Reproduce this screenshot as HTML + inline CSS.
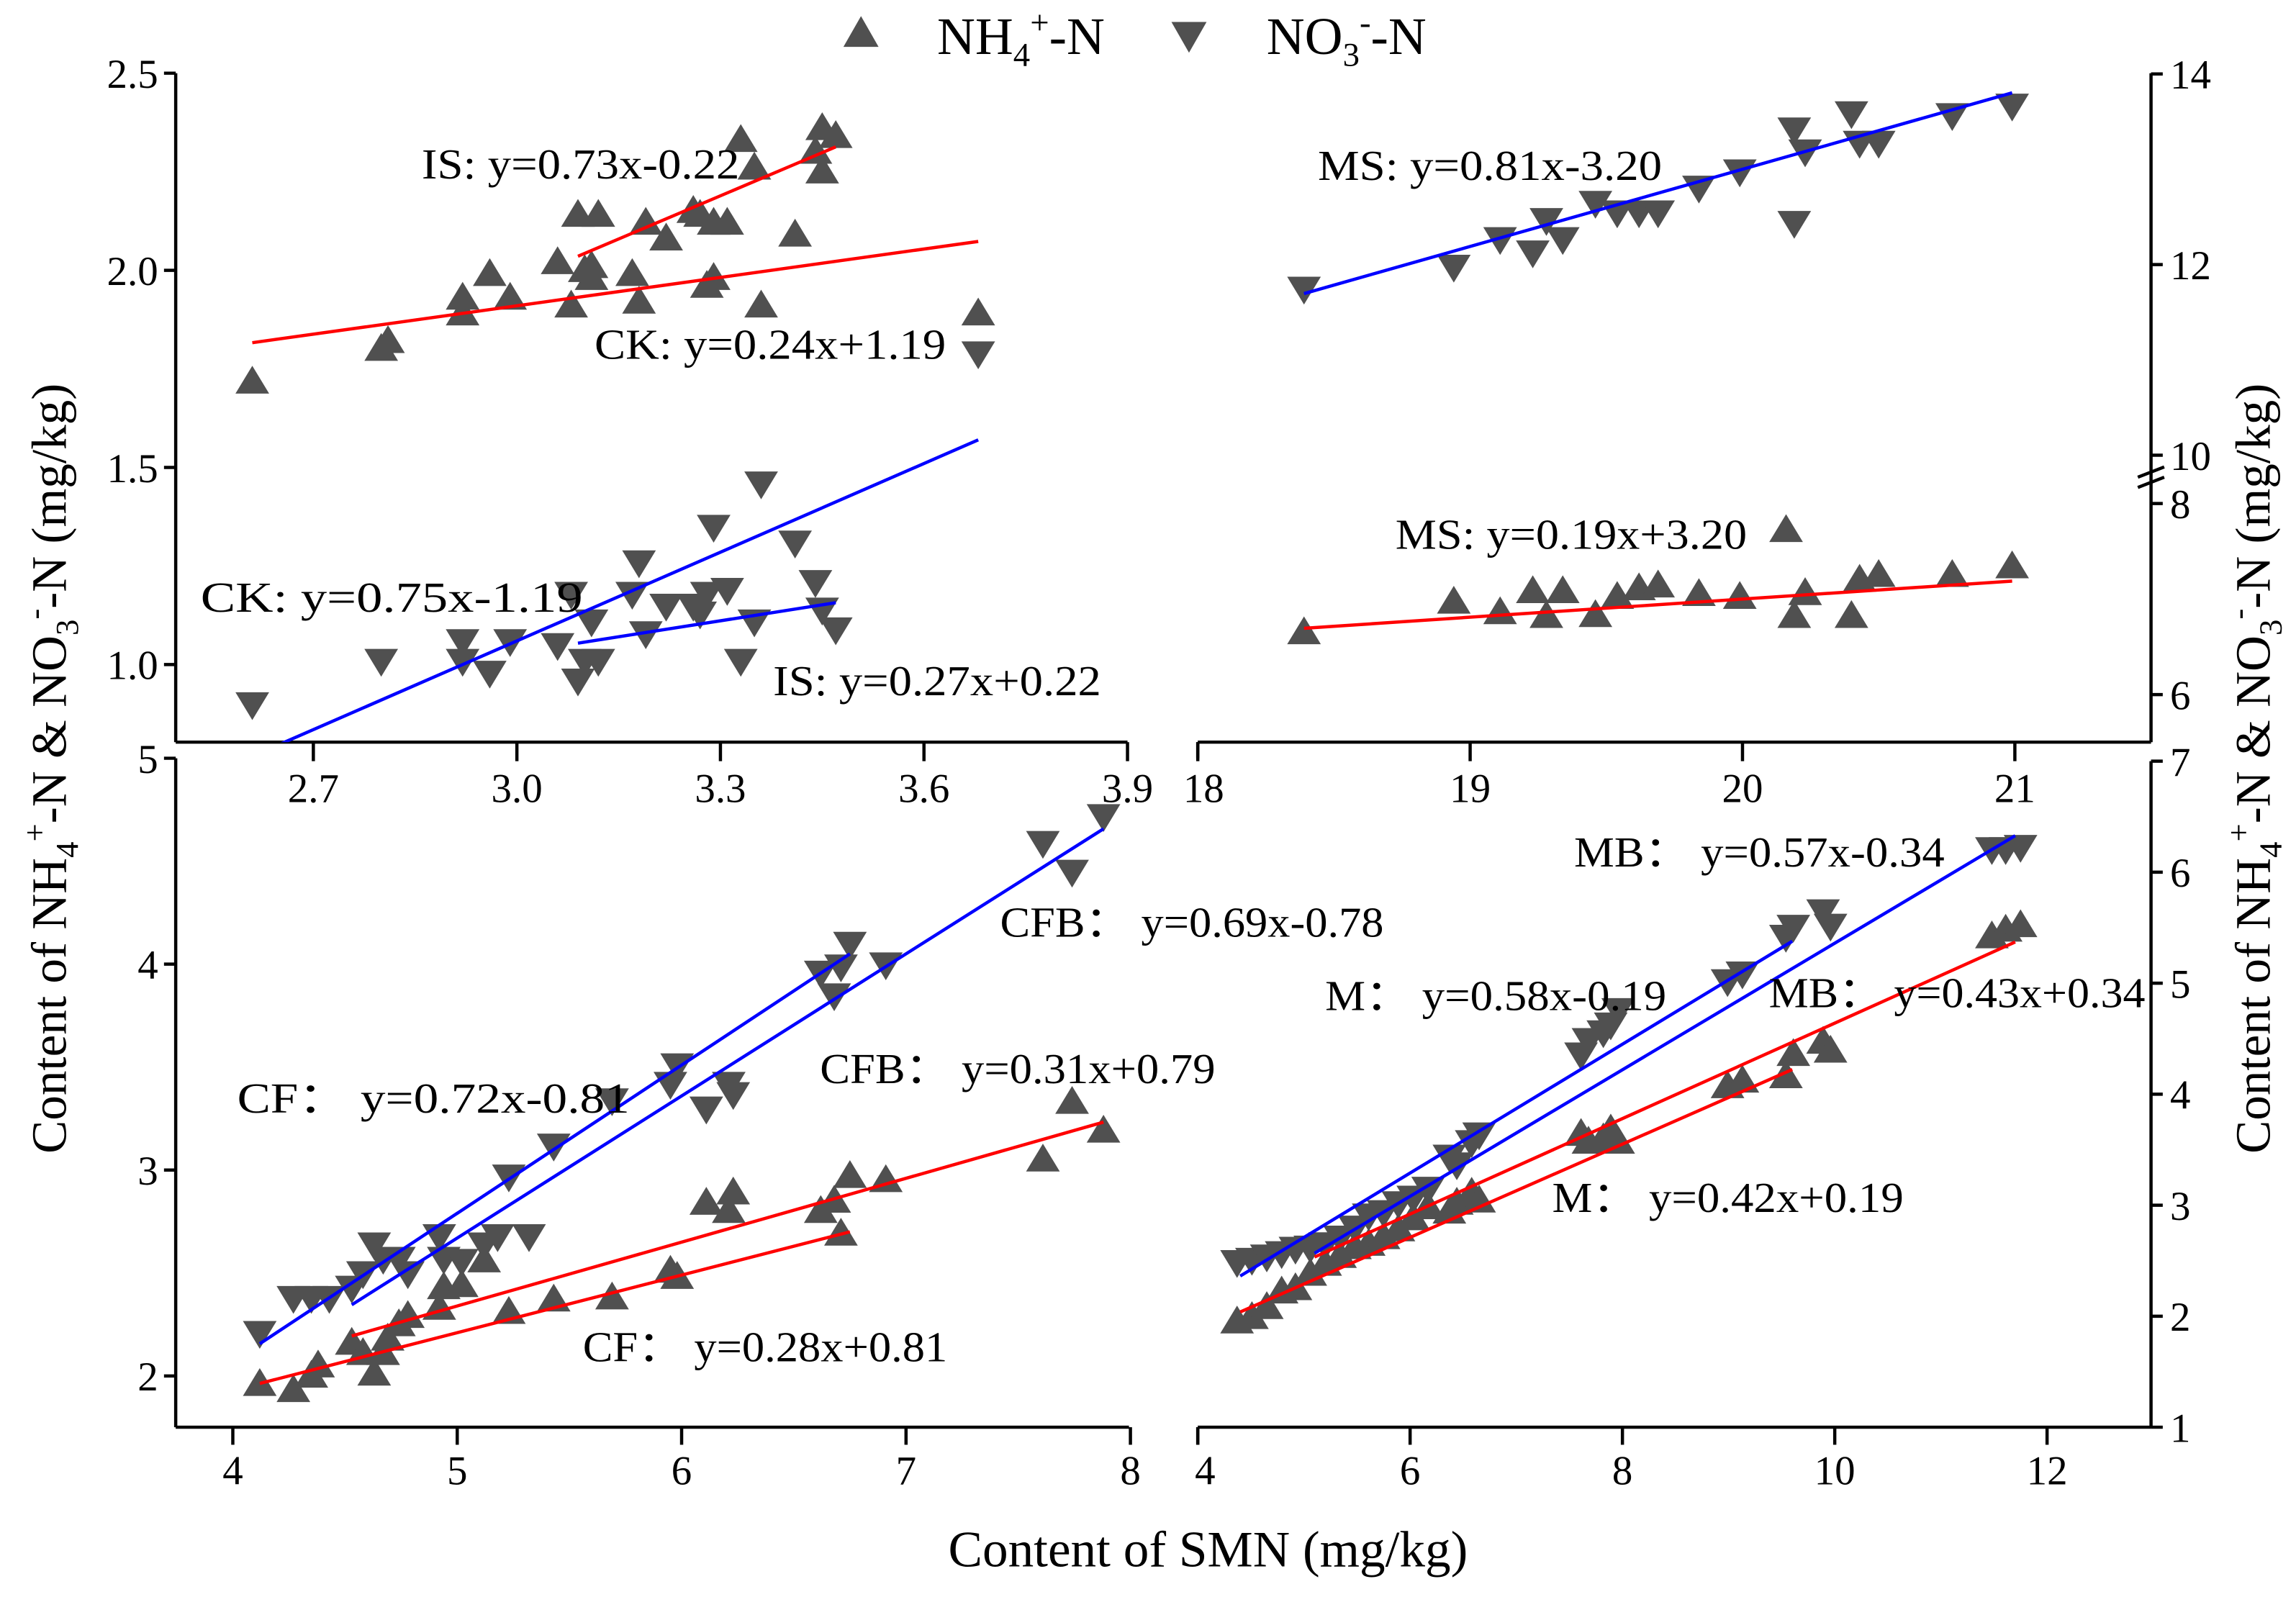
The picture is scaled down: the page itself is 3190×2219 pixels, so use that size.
<!DOCTYPE html>
<html><head><meta charset="utf-8"><style>
html,body{margin:0;padding:0;background:#fff;}
svg{display:block;}
text{font-family:"Liberation Serif",serif;fill:#000;}
</style></head><body>
<svg id="chart" xmlns="http://www.w3.org/2000/svg" width="3190" height="2219" viewBox="0 0 1568 1091" preserveAspectRatio="none">
<defs><clipPath id="clipTL"><rect x="120" y="40" width="660" height="467"/></clipPath></defs>
<g id="axes"></g>
<g id="marks"></g>
<g id="labels"></g>
<g>
<path d="M588,11 L576,32 L600,32 Z" fill="#505050"/>
<text x="640" y="37" font-size="36">NH<tspan font-size="23" dy="8">4</tspan><tspan font-size="23" dy="-22">+</tspan><tspan dy="14">-N</tspan></text>
<path d="M800,15 L824,15 L812,36 Z" fill="#505050"/>
<text x="865" y="37" font-size="36">NO<tspan font-size="23" dy="8">3</tspan><tspan font-size="23" dy="-22">-</tspan><tspan dy="14">-N</tspan></text>
</g>
<text transform="translate(45,525) rotate(-90)" text-anchor="middle" font-size="34">Content of NH<tspan font-size="22" dy="8">4</tspan><tspan font-size="22" dy="-22">+</tspan><tspan dy="14">-N &amp; NO</tspan><tspan font-size="22" dy="8">3</tspan><tspan font-size="22" dy="-22">-</tspan><tspan dy="14">-N (mg/kg)</tspan></text>
<text transform="translate(1550,525) rotate(-90)" text-anchor="middle" font-size="34">Content of NH<tspan font-size="22" dy="8">4</tspan><tspan font-size="22" dy="-22">+</tspan><tspan dy="14">-N &amp; NO</tspan><tspan font-size="22" dy="8">3</tspan><tspan font-size="22" dy="-22">-</tspan><tspan dy="14">-N (mg/kg)</tspan></text>
<text x="825" y="1070" text-anchor="middle" font-size="35">Content of SMN (mg/kg)</text>
</svg>
<script>
// ---- Top-left (CK / IS) ----
const TL_X_NH4=[2.61,2.80,2.81,2.92,2.92,2.96,2.99,3.06,3.08,3.09,3.10,3.11,3.12,3.11,3.17,3.18,3.19,3.22,3.26,3.27,3.28,3.29,3.29,3.31,3.33,3.35,3.36,3.41,3.44,3.45,3.45,3.47,3.68];
const TL_NH4=[1.717,1.80,1.82,1.89,1.93,1.99,1.93,2.02,1.91,2.14,2.00,1.98,2.14,2.01,1.99,1.92,2.12,2.08,2.15,2.14,1.96,1.98,2.12,2.12,2.33,2.26,1.91,2.09,2.30,2.36,2.25,2.34,1.89];
const TL_X_NO3=[2.61,2.80,2.92,2.92,2.96,2.99,3.06,3.08,3.09,3.10,3.11,3.12,3.17,3.18,3.19,3.22,3.26,3.27,3.28,3.29,3.31,3.33,3.35,3.36,3.41,3.44,3.45,3.47,3.68];
const TL_NO3=[0.90,1.01,1.06,1.01,0.98,1.06,1.05,1.18,0.96,1.01,1.11,1.01,1.18,1.26,1.08,1.15,1.15,1.13,1.18,1.35,1.19,1.01,1.11,1.46,1.31,1.21,1.14,1.09,1.79];
// ---- Top-right (MS) ----
const TR_X=[18.39,18.94,19.11,19.23,19.28,19.34,19.46,19.54,19.62,19.69,19.84,19.99,20.19,20.19,20.23,20.40,20.43,20.50,20.77,20.99];
const TR_NO3=[11.75,11.98,12.27,12.13,12.47,12.27,12.65,12.55,12.55,12.55,12.81,12.98,13.42,12.44,13.19,13.59,13.28,13.28,13.57,13.67];
const TR_X_NH4=[18.39,18.94,19.11,19.23,19.28,19.34,19.46,19.54,19.62,19.69,19.84,19.99,20.16,20.19,20.23,20.40,20.43,20.50,20.77,20.99];
const TR_NH4=[6.65,6.97,6.86,7.08,6.82,7.08,6.83,7.02,7.11,7.14,7.05,7.02,7.72,6.82,7.06,6.82,7.20,7.25,7.25,7.34];
// ---- Bottom-left (CF / CFB) ----
const BL_X_NH4=[4.12,4.27,4.35,4.38,4.53,4.58,4.63,4.67,4.69,4.74,4.78,4.92,4.94,5.02,5.12,5.23,5.43,5.69,5.95,5.98,6.11,6.21,6.23,6.62,6.68,6.71,6.75,6.91,7.61,7.74,7.88];
const BL_NH4=[1.96,1.93,2.00,2.05,2.16,2.11,2.01,2.11,2.18,2.25,2.29,2.33,2.43,2.44,2.56,2.31,2.37,2.38,2.51,2.48,2.84,2.80,2.89,2.80,2.85,2.69,2.97,2.95,3.05,3.33,3.19];
const BL_X_NO3=[4.12,4.27,4.35,4.43,4.53,4.58,4.63,4.67,4.74,4.78,4.92,4.94,5.02,5.12,5.18,5.23,5.32,5.43,5.69,5.95,5.98,6.11,6.21,6.23,6.62,6.68,6.71,6.75,6.91,7.61,7.74,7.88];
const BL_NO3=[2.21,2.38,2.38,2.38,2.43,2.50,2.64,2.57,2.57,2.50,2.68,2.57,2.56,2.64,2.68,2.97,2.68,3.12,3.34,3.42,3.51,3.30,3.42,3.37,3.96,3.85,3.99,4.10,4.00,4.59,4.45,4.72];
// ---- Bottom-right (M / MB) ----
const BR_X=[4.37,4.51,4.65,4.79,4.92,5.06,5.20,5.34,5.48,5.61,5.75,5.89,6.03,6.17,6.37,6.44,6.58,6.65,7.61,7.68,7.82,7.89,7.96,8.99,9.13,9.54,9.61,9.89,9.96,11.48,11.61,11.75];
const BR_NO3=[2.49,2.51,2.54,2.57,2.61,2.62,2.65,2.71,2.80,2.91,2.94,3.02,3.07,3.15,3.44,3.37,3.57,3.64,4.36,4.49,4.56,4.63,4.76,5.02,5.09,5.42,5.51,5.65,5.52,6.21,6.21,6.23];
const BR_NH4=[1.95,1.99,2.08,2.22,2.25,2.38,2.47,2.54,2.62,2.65,2.71,2.78,2.88,2.98,2.94,3.02,3.11,3.04,3.64,3.57,3.60,3.68,3.57,4.07,4.12,4.16,4.36,4.47,4.39,5.42,5.48,5.52];
// ---- Regression lines: [slope, intercept, xStart, xEnd] ----
const TL_CK_NH4=[0.24,1.19,2.61,3.68];
const TL_IS_NH4=[0.73,-0.22,3.09,3.47];
const TL_CK_NO3=[0.75,-1.19,2.61,3.68];
const TL_IS_NO3=[0.27,0.22,3.09,3.47];
const TR_MS_NO3=[0.81,-3.20,18.39,20.99];
const TR_MS_NH4=[0.19,3.20,18.39,20.99];
const BL_CF_NO3=[0.72,-0.81,4.12,6.75];
const BL_CFB_NO3=[0.69,-0.78,4.53,7.88];
const BL_CF_NH4=[0.28,0.81,4.12,6.75];
const BL_CFB_NH4=[0.31,0.79,4.53,7.88];
const BR_M_NO3=[0.58,-0.19,4.4,9.6];
const BR_MB_NO3=[0.57,-0.34,5.1,11.7];
const BR_M_NH4=[0.42,0.19,4.4,9.6];
const BR_MB_NH4=[0.43,0.34,5.1,11.7];
// ---- Tick labels ----
const TL_XTICKS=["2.7","3.0","3.3","3.6","3.9"];
const TL_YTICKS=["1.0","1.5","2.0","2.5"];
const TR_XTICKS=["18","19","20","21"];
const TR_YTICKS_UP=["10","12","14"];
const TR_YTICKS_LO=["6","8"];
const BL_XTICKS=["4","5","6","7","8"];
const BL_YTICKS=["2","3","4","5"];
const BR_XTICKS=["4","6","8","10","12"];
const BR_YTICKS=["1","2","3","4","5","6","7"];

const NS="http://www.w3.org/2000/svg";
const axesG=document.getElementById('axes');
const marksG=document.getElementById('marks');
function lin(d0,d1,r0,r1){return v=>r0+(v-d0)*(r1-r0)/(d1-d0);}
function mk(tag,attrs,parent){const e=document.createElementNS(NS,tag);for(const k in attrs)e.setAttribute(k,attrs[k]);parent.appendChild(e);return e;}

const P={
 tl:{sx:lin(2.7,3.9,214,770),sy:lin(1.0,2.5,454,50)},
 trU:{sx:lin(18,21,818,1376),sy:lin(10,14,311,50.5)},
 trL:{sx:lin(18,21,818,1376),sy:lin(6,8,474.5,344)},
 bl:{sx:lin(4,8,159,772),sy:lin(2,5,940,518)},
 br:{sx:lin(4,12,818,1398),sy:lin(1,7,975,520)}
};

function line(x1,y1,x2,y2,name){
 const l=mk('line',{x1:x1,y1:y1,x2:x2,y2:y2,stroke:'#000','stroke-width':2.2},axesG);
 
 
}
function label(x,y,t,anchor,name){
 const e=mk('text',{x:x,y:y,'font-size':28,'text-anchor':anchor},axesG);
 e.textContent=t;
 
 
}
line(120,50,120,507,'y-axis-top-left');
line(120,507,770,507,'x-axis-top-left');
line(818,507,1469,507,'x-axis-top-right');
line(1469,50,1469,507,'y-axis-top-right');
line(120,518,120,975,'y-axis-bottom-left');
line(120,975,771,975,'x-axis-bottom-left');
line(818,975,1469,975,'x-axis-bottom-right');
line(1469,520,1469,975,'y-axis-bottom-right');
line(818,507,818,518,'x-axis-top-right-start');
line(818,975,818,987,'x-axis-bottom-right-start');
line(1460,326,1478,319,'axis-break-1');
line(1460,333,1478,326,'axis-break-2');

TL_XTICKS.forEach(t=>{const x=P.tl.sx(parseFloat(t));line(x,507,x,520,'x-tick-top-left');label(x,548,t,'middle','x-tick-label-top-left');});
TL_YTICKS.forEach(t=>{const y=P.tl.sy(parseFloat(t));line(112,y,120,y,'y-tick-top-left');label(108,y+10,t,'end','y-tick-label-top-left');});
TR_XTICKS.forEach(t=>{const x=P.trU.sx(parseFloat(t));line(x,507,x,520,'x-tick-top-right');label(x+(t==='18'?4:0),548,t,'middle','x-tick-label-top-right');});
TR_YTICKS_UP.forEach(t=>{const y=P.trU.sy(parseFloat(t));line(1469,y,1477,y,'y-tick-top-right');label(1482,y+10,t,'start','y-tick-label-top-right');});
TR_YTICKS_LO.forEach(t=>{const y=P.trL.sy(parseFloat(t));line(1469,y,1477,y,'y-tick-top-right');label(1482,y+10,t,'start','y-tick-label-top-right');});
BL_XTICKS.forEach(t=>{const x=P.bl.sx(parseFloat(t));line(x,975,x,987,'x-tick-bottom-left');label(x,1014,t,'middle','x-tick-label-bottom-left');});
BL_YTICKS.forEach(t=>{const y=P.bl.sy(parseFloat(t));line(112,y,120,y,'y-tick-bottom-left');label(108,y+10,t,'end','y-tick-label-bottom-left');});
BR_XTICKS.forEach(t=>{const x=P.br.sx(parseFloat(t));line(x,975,x,987,'x-tick-bottom-right');label(x+(t==='4'?5:0),1014,t,'middle','x-tick-label-bottom-right');});
BR_YTICKS.forEach(t=>{const y=P.br.sy(parseFloat(t));line(1469,y,1477,y,'y-tick-bottom-right');label(1482,y+10,t,'start','y-tick-label-bottom-right');});

function tri(p,xs,ys,up,name){
 xs.forEach((xv,i)=>{
  const cx=p.sx(xv),cy=p.sy(ys[i]);
  const d=up?`M${cx},${cy-11} L${cx-11.5},${cy+8} L${cx+11.5},${cy+8} Z`:`M${cx-11.5},${cy-8} L${cx+11.5},${cy-8} L${cx},${cy+11} Z`;
  const e=mk('path',{d:d,fill:'#505050'},marksG);
  
  
 });
}
function reg(p,r,color,name,clip){
 const [m,b,x0,x1]=r;
 const e=mk('line',{x1:p.sx(x0),y1:p.sy(m*x0+b),x2:p.sx(x1),y2:p.sy(m*x1+b),stroke:color,'stroke-width':2.2},marksG);
 if(clip)e.setAttribute('clip-path','url(#clipTL)');
 
 
}
tri(P.tl,TL_X_NH4,TL_NH4,true,'point-nh4-ck-is');
tri(P.tl,TL_X_NO3,TL_NO3,false,'point-no3-ck-is');
tri(P.trU,TR_X,TR_NO3,false,'point-no3-ms');
tri(P.trL,TR_X_NH4,TR_NH4,true,'point-nh4-ms');
tri(P.bl,BL_X_NH4,BL_NH4,true,'point-nh4-cf-cfb');
tri(P.bl,BL_X_NO3,BL_NO3,false,'point-no3-cf-cfb');
tri(P.br,BR_X,BR_NH4,true,'point-nh4-m-mb');
tri(P.br,BR_X,BR_NO3,false,'point-no3-m-mb');

reg(P.tl,TL_CK_NH4,'#ff0000','fit-ck-nh4');
reg(P.tl,TL_IS_NH4,'#ff0000','fit-is-nh4');
reg(P.tl,TL_CK_NO3,'#0000ff','fit-ck-no3',true);
reg(P.tl,TL_IS_NO3,'#0000ff','fit-is-no3');
reg(P.trU,TR_MS_NO3,'#0000ff','fit-ms-no3');
reg(P.trL,TR_MS_NH4,'#ff0000','fit-ms-nh4');
reg(P.bl,BL_CF_NO3,'#0000ff','fit-cf-no3');
reg(P.bl,BL_CFB_NO3,'#0000ff','fit-cfb-no3');
reg(P.bl,BL_CF_NH4,'#ff0000','fit-cf-nh4');
reg(P.bl,BL_CFB_NH4,'#ff0000','fit-cfb-nh4');
reg(P.br,BR_M_NO3,'#0000ff','fit-m-no3');
reg(P.br,BR_MB_NO3,'#0000ff','fit-mb-no3');
reg(P.br,BR_M_NH4,'#ff0000','fit-m-nh4');
reg(P.br,BR_MB_NH4,'#ff0000','fit-mb-nh4');

const labG=document.getElementById('labels');
const EQ_TEXT=["IS: y=0.73x-0.22","CK: y=0.24x+1.19","CK: y=0.75x-1.19","IS: y=0.27x+0.22","MS: y=0.81x-3.20","MS: y=0.19x+3.20","CFB\uFF1A y=0.69x-0.78","CF\uFF1A y=0.72x-0.81","CFB\uFF1A y=0.31x+0.79","CF\uFF1A y=0.28x+0.81","MB\uFF1A y=0.57x-0.34","M\uFF1A y=0.58x-0.19","MB\uFF1A y=0.43x+0.34","M\uFF1A y=0.42x+0.19"];
const EQ_POS=[[288,122,217],[406,245,240],[137,418,261],[528,475,224],[900,123,235],[953,375,240],[683,640,262],[162,760,268],[560,740,270],[398,930,249],[1075,592,253],[905,690,233],[1208,688,257],[1060,828,240]];
EQ_TEXT.forEach((t,i)=>{
 const e=mk('text',{x:EQ_POS[i][0],y:EQ_POS[i][1],'font-size':29,textLength:EQ_POS[i][2],lengthAdjust:'spacingAndGlyphs'},labG);
 e.textContent=t;
 
 
});
</script>
</body></html>
